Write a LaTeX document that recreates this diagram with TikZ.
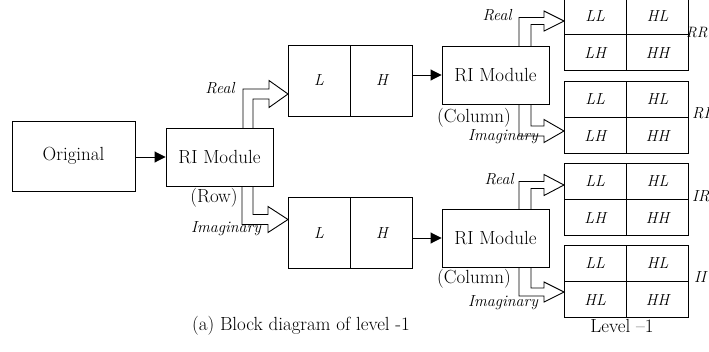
\documentclass[tikz,border=0pt]{standalone}
\usetikzlibrary{arrows.meta,calc}
\newcommand\hollowarr[9]{% #1 xc #2 yedge #3 xt #4 yt #5 w #6 h #7 H #8 L #9 s
  \draw[hollow] ({#1-#5},#2) -- ({#1-#5},{#4-#9*#6}) -- ({#3-#8},{#4-#9*#6}) -- ({#3-#8},{#4-#9*#7}) -- (#3,#4) -- ({#3-#8},{#4+#9*#7}) -- ({#3-#8},{#4+#9*#6}) -- ({#1+#5},{#4+#9*#6}) -- ({#1+#5},#2);}
\newcommand\quadgrid[4]{% #1 prefix, #2 x, #3 top y, #4 lower-left label
  \node[cell,anchor=north west] (#1LL) at (#2,#3) {LL};
  \node[cell,anchor=north west] (#1HL) at (#1LL.north east) {HL};
  \node[cell,anchor=north west] (#1LH) at (#1LL.south west) {#4};
  \node[cell,anchor=north west] (#1HH) at (#1LH.north east) {HH};}
\begin{document}
\begin{tikzpicture}[x=1pt,y=-1pt,
  box/.style={draw,line width=0.9pt,inner sep=0pt,font=\fontsize{19}{22}\selectfont},
  half/.style={draw,line width=0.9pt,inner sep=0pt,minimum width=62pt,minimum height=71pt,font=\fontsize{16}{19}\selectfont\itshape},
  cell/.style={draw,line width=0.9pt,inner sep=0pt,minimum width=61.5pt,minimum height=35.5pt,font=\fontsize{16}{19}\selectfont\itshape},
  lbl/.style={font=\fontsize{19}{22}\selectfont,inner sep=0pt},
  ilbl/.style={font=\fontsize{16}{19}\selectfont\itshape,inner sep=0pt},
  conn/.style={line width=0.9pt,-{Triangle[length=11pt,width=11pt]}},
  hollow/.style={draw,line width=0.9pt,line join=miter}]
\useasboundingbox (0,0) rectangle (709,351);
% main boxes
\node[box,minimum width=123pt,minimum height=70pt] (orig) at (73.5,156) {Original};
\node[box,minimum width=107pt,minimum height=58pt] (ri1) at (219.5,157) {RI Module};
\node[half] (l1) at (319,80.5) {L};
\node[half,anchor=west] (h1) at (l1.east) {H};
\node[half] (l2) at (319,233) {L};
\node[half,anchor=west] (h2) at (l2.east) {H};
\node[box,minimum width=107pt,minimum height=58pt] (ri2) at (495.5,75) {RI Module};
\node[box,minimum width=107pt,minimum height=58pt] (ri3) at (495.5,238) {RI Module};
% output grids
\quadgrid{rr}{564}{-2}{LH}
\quadgrid{ri}{564}{81}{LH}
\quadgrid{ir}{564}{163}{LH}
\quadgrid{ii}{564}{245}{HL}
% connectors
\draw[conn] (orig.east |- ri1.west) -- (ri1.west);
\draw[conn] (h1.east |- ri2.west) -- (ri2.west);
\draw[conn] (h2.east |- ri3.west) -- (ri3.west);
% hollow block arrows
\hollowarr{248}{128}{288}{94}{5}{5}{13.5}{19}{1}
\hollowarr{247.5}{186}{288}{219.5}{5.5}{5}{13}{20}{-1}
\hollowarr{525}{46}{564}{21}{6}{3.5}{10}{20}{1}
\hollowarr{525}{104}{564}{131}{6}{5}{11.5}{20}{-1}
\hollowarr{525}{209}{564}{185}{6}{3.5}{10.5}{20}{1}
\hollowarr{525}{267}{564}{292}{6}{4}{10}{20}{-1}
% labels
\node[ilbl] (t1) at (220,88) {Real};
\node[ilbl] (t2) at (226,229) {Imaginary};
\node[lbl] (t3) at (214,198) {(Row)};
\node[lbl] (t4) at (474,118) {(Column)};
\node[lbl] (t5) at (474,279) {(Column)};
\node[ilbl] (t6) at (497,15) {Real};
\node[ilbl] (t7) at (499,179) {Real};
\node[ilbl] (t8) at (503,137) {Imaginary};
\node[ilbl] (t9) at (503,303) {Imaginary};
\node[ilbl,anchor=west,font=\fontsize{15}{18}\selectfont\itshape] (rrl) at (686,33) {RR};
\node[ilbl,anchor=west] (ril) at (692,113) {RI};
\node[ilbl,anchor=west] (irl) at (692,196) {IR};
\node[ilbl,anchor=west] (iil) at (694,277) {II};
\node[lbl] (lev) at (622,326) {Level --1};
\node[lbl] (cap) at (301,326) {(a) Block diagram of level -1};
\end{tikzpicture}
\end{document}
